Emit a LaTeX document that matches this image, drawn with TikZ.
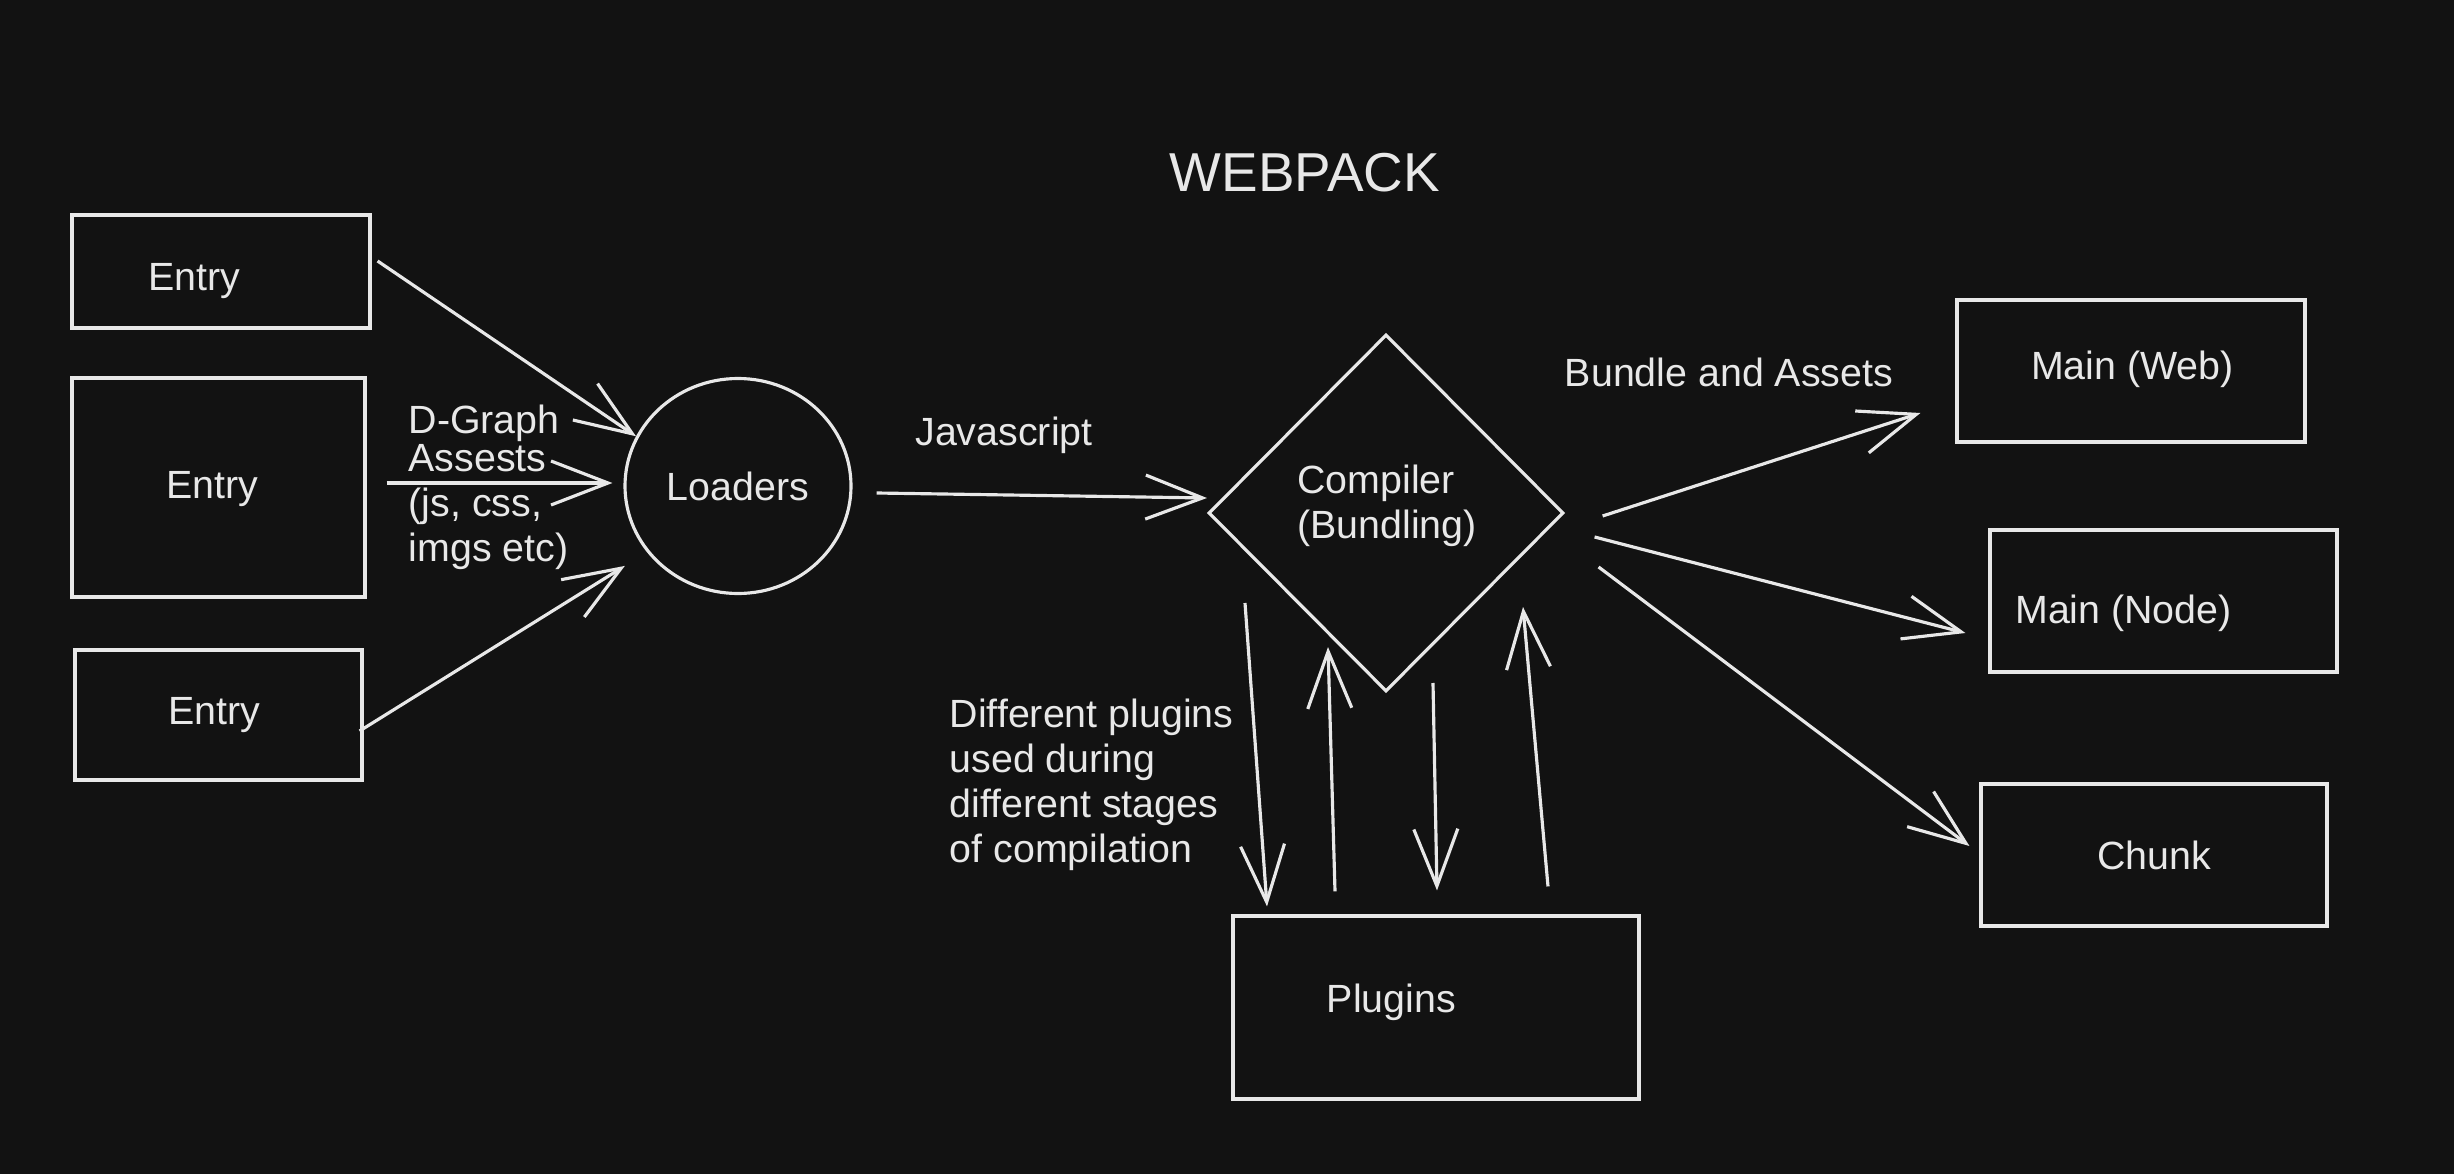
\documentclass[tikz,border=0pt]{standalone}
\usepackage{fontspec}
\setmainfont{Liberation Sans}
\usepackage{tikz}
\usepackage{xcolor}
\usetikzlibrary{positioning, arrows.meta, shapes.geometric}
\definecolor{bgdark}{HTML}{121212}
\definecolor{chalk}{HTML}{E8E8E8}

\begin{document}
\begin{tikzpicture}[x=0.1mm, y=-0.1mm,
    txt/.style={font=\fontsize{11.2pt}{12.85pt}\selectfont, text=chalk, inner sep=0pt},
    box/.style={rectangle, draw=chalk, line width=0.9pt, inner sep=0pt},
    arr/.style={draw=chalk, line width=0.9pt, -{Straight Barb[length=5.7mm, width=4.4mm]}}]
                    \fill[bgdark] (0, 0) rectangle (2454, 1174);

                    \node[txt, font=\fontsize{15.6pt}{18pt}\selectfont, anchor=base] (title) at (1305, 192) {WEBPACK};

                    \node[box, minimum width=29.8mm, minimum height=11.3mm, label={[txt, xshift=-2.65mm, yshift=-1mm]center:Entry}] (entryA) at (221, 271.5) {};
                    \node[box, minimum width=29.3mm, minimum height=21.9mm, label={[txt, xshift=-0.65mm, yshift=-0.15mm]center:Entry}] (entryB) at (218.5, 487.5) {};
                    \node[box, minimum width=28.7mm, minimum height=13mm, label={[txt, xshift=-0.4mm]center:Entry}] (entryC) at (218.5, 715) {};
                    \node[ellipse, draw=chalk, line width=0.9pt, minimum width=22.6mm, minimum height=21.5mm, txt] (loaders) at (738, 486) {Loaders};
                    \node[diamond, draw=chalk, line width=0.9pt, minimum width=35.5mm, minimum height=35.7mm, inner sep=0pt, label={[txt, align=left, xshift=0.1mm, yshift=0.7mm]center:Compiler\\(Bundling)}] (compiler) at (1386, 513) {};
                    \node[box, minimum width=40.6mm, minimum height=18.3mm, label={[txt, xshift=-4.45mm, yshift=0.55mm]center:Plugins}] (plugins) at (1436, 1007.5) {};
                    \node[box, minimum width=34.8mm, minimum height=14.2mm, label={[txt, xshift=0.15mm, yshift=0.2mm]center:Main (Web)}] (mainweb) at (2131, 371) {};
                    \node[box, minimum width=34.7mm, minimum height=14.2mm, label={[txt, xshift=-4mm, yshift=-1.2mm]center:Main (Node)}] (mainnode) at (2163.5, 601) {};
                    \node[box, minimum width=34.6mm, minimum height=14.2mm, label={[txt]center:Chunk}] (chunk) at (2154, 855) {};

                    \node[txt, anchor=north west, align=left] (assets) at (408, 404) {D-Graph\\[-0.7mm]Assests\\(js, css,\\imgs etc)};
                    \node[txt, anchor=base] (js) at (1004, 445) {Javascript};
                    \node[txt, anchor=base] (bundle) at (1729, 387) {Bundle and Assets};
                    \node[txt, anchor=north west, align=left] (stages) at (949, 698) {Different plugins\\used during\\different stages\\of compilation};

                    \draw[arr] ([xshift=0.6mm, yshift=1.05mm]entryA.east) -- (loaders.154);
                    \draw[arr] ([xshift=2mm, yshift=0.45mm]entryB.east) -- ([xshift=-1.1mm, yshift=0.3mm]loaders.west);
                    \draw[arr, shorten >=2.6mm] ([xshift=-0.4mm, yshift=-1.6mm]entryC.east) -- (loaders.216);
                    \draw[arr] ([xshift=2.4mm, yshift=-0.7mm]loaders.east) -- ([yshift=1.5mm]compiler.west);
                    \draw[arr] ([xshift=3.75mm, yshift=-0.3mm]compiler.east) -- ([xshift=-3.5mm, yshift=-4.2mm]mainweb.west);
                    \draw[arr] ([xshift=2.95mm, yshift=-2.4mm]compiler.east) -- ([xshift=-2.3mm, yshift=-3.2mm]mainnode.west);
                    \draw[arr] ([xshift=3.35mm, yshift=-5.4mm]compiler.east) -- ([xshift=-1mm, yshift=0.9mm]chunk.west);
                    \draw[arr] ([xshift=-14.1mm, yshift=-9mm]compiler.center) -- ([xshift=-16.9mm, yshift=0.8mm]plugins.north);
                    \draw[arr] ([xshift=-10.1mm, yshift=2.3mm]plugins.north) -- ([xshift=-5.8mm, yshift=-13.4mm]compiler.center);
                    \draw[arr] ([xshift=4.7mm, yshift=-17mm]compiler.center) -- ([xshift=0.1mm, yshift=2.4mm]plugins.north);
                    \draw[arr] ([xshift=11.2mm, yshift=2.8mm]plugins.north) -- ([xshift=13.7mm, yshift=-9.4mm]compiler.center);
                \end{tikzpicture}
\end{document}
